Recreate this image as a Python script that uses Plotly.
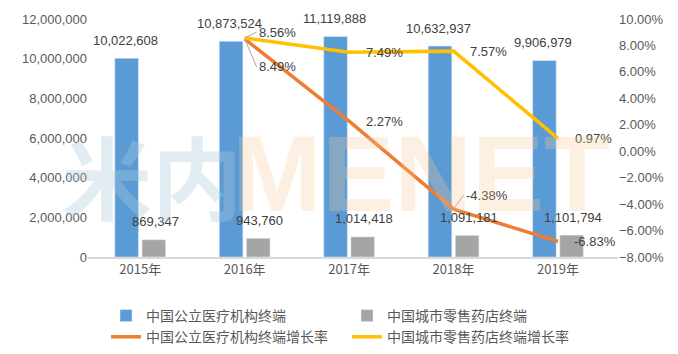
import plotly.graph_objects as go

years = ["2015年", "2016年", "2017年", "2018年", "2019年"]
public_hosp = [10022608, 10873524, 11119888, 10632937, 9906979]
retail_pharm = [869347, 943760, 1014418, 1091181, 1101794]
rate_years = ["2016年", "2017年", "2018年", "2019年"]
public_rate = [8.49, 2.27, -4.38, -6.83]
retail_rate = [8.56, 7.49, 7.57, 0.97]

names = ["中国公立医疗机构终端", "中国城市零售药店终端",
         "中国公立医疗机构终端增长率", "中国城市零售药店终端增长率"]

BLUE = "#5b9bd5"
GRAY = "#a5a5a5"
ORANGE = "#ed7d31"
YELLOW = "#ffc000"
TXT = "#404040"
NUMFONT = "Liberation Sans"
CJK = "Noto Sans CJK SC"

W, H = 678, 354
ML, MR, MT, MB = 88, 60, 14, 97
PW, PH = W - ML - MR, H - MT - MB


def px2paper(xp, yp):
    return (xp - ML) / PW, (H - MB - yp) / PH


fig = go.Figure()
fig.add_trace(go.Bar(x=years, y=public_hosp, name=names[0], marker_color=BLUE))
fig.add_trace(go.Bar(x=years, y=retail_pharm, name=names[1], marker_color=GRAY))
fig.add_trace(go.Scatter(x=rate_years, y=public_rate, name=names[2], yaxis="y2",
                         mode="lines", line=dict(color=ORANGE, width=3.5)))
fig.add_trace(go.Scatter(x=rate_years, y=retail_rate, name=names[3], yaxis="y2",
                         mode="lines", line=dict(color=YELLOW, width=3.5)))

ann = []
# bar labels
for yr, v in zip(years, public_hosp):
    ann.append(dict(x=yr, y=v, text=f"{v:,}", showarrow=False, xshift=-15, yshift=18,
                    font=dict(size=13, color=TXT, family=NUMFONT)))
for yr, v in zip(years, retail_pharm):
    ann.append(dict(x=yr, y=v, text=f"{v:,}", showarrow=False, xshift=15, yshift=18,
                    font=dict(size=13, color=TXT, family=NUMFONT)))


def rate_label(yr, v, xs, ys, arrow=None):
    d = dict(x=yr, y=v, yref="y2", text=f"{v:.2f}%",
             font=dict(size=13, color=TXT, family=NUMFONT))
    if arrow:
        d.update(showarrow=True, ax=arrow[0], ay=arrow[1], arrowhead=0,
                 arrowwidth=1, arrowcolor="#a6a6a6", xanchor="left", standoff=0)
    else:
        d.update(showarrow=False, xshift=xs, yshift=ys)
    return d


ann.append(rate_label(rate_years[0], retail_rate[0], 0, 0, arrow=(12, -6)))
ann.append(rate_label(rate_years[0], public_rate[0], 0, 0, arrow=(12, 28)))
for i in range(1, 4):
    ann.append(rate_label(rate_years[i], retail_rate[i], 35, 0))
ann.append(rate_label(rate_years[1], public_rate[1], 35, 0))
ann.append(rate_label(rate_years[2], public_rate[2], 0, 0, arrow=(10, -14)))
ann.append(rate_label(rate_years[3], public_rate[3], 37, 0))

# watermark
wx, wy = px2paper(60, 172)
ann.append(dict(xref="paper", yref="paper", x=wx, y=wy,
                xanchor="left", yanchor="middle", text="<b>米内</b>", showarrow=False,
                font=dict(size=90, color="rgba(170,200,220,0.34)", family=CJK)))
wx, wy = px2paper(230, 172)
ann.append(dict(xref="paper", yref="paper", x=wx, y=wy,
                xanchor="left", yanchor="middle", text="<b>MENET</b>", showarrow=False,
                font=dict(size=108, color="rgba(248,200,150,0.28)", family="Liberation Sans")))

fig.update_layout(
    width=W, height=H,
    margin=dict(l=ML, r=MR, t=MT, b=MB),
    plot_bgcolor="white", paper_bgcolor="white",
    barmode="group", bargap=0.48, bargroupgap=0.13,
    font=dict(family=NUMFONT, size=13, color="#595959"),
    xaxis=dict(type="category", showgrid=False, showline=True, linecolor="#d9d9d9",
               linewidth=1.5, ticks="", tickfont=dict(size=13, family=CJK, color="#595959")),
    yaxis=dict(range=[0, 12000000], dtick=2000000, tickformat=",d", showgrid=False,
               zeroline=False, ticks="", tickfont=dict(size=13, color="#595959")),
    yaxis2=dict(range=[-8, 10], dtick=2, tickformat=".2f", ticksuffix="%", overlaying="y",
                side="right", showgrid=False, zeroline=False, ticks="",
                tickfont=dict(size=13, color="#595959")),
    legend=dict(orientation="h", xref="container", yref="container",
                x=106 / W, y=1 - 300 / H, xanchor="left", yanchor="top",
                entrywidth=196, font=dict(size=14, family=CJK, color="#595959"),
                traceorder="normal", itemwidth=30, tracegroupgap=0),
    annotations=ann,
    showlegend=True,
)

fig.write_html("out.html")
